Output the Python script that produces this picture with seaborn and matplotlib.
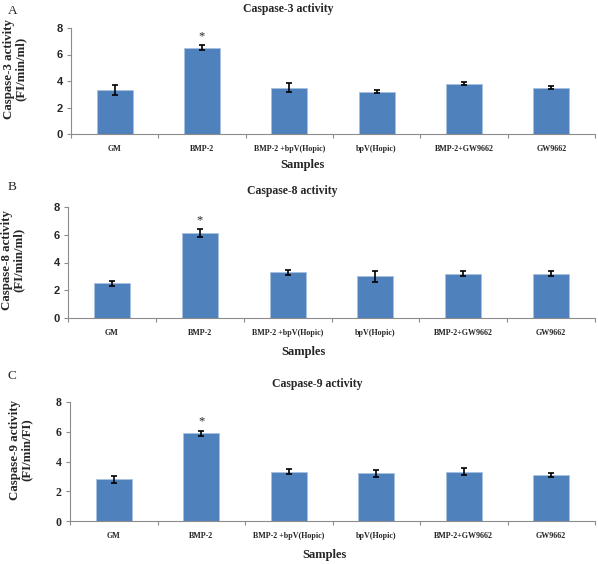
import numpy as np
import pandas as pd
import matplotlib
matplotlib.use("Agg")
import matplotlib.pyplot as plt
from matplotlib.ticker import FixedLocator
import seaborn as sns

categories = ["GM", "BMP-2", "BMP-2 +bpV(Hopic)", "bpV(Hopic)", "BMP-2+GW9662", "GW9662"]

casp3_mean = [3.3, 6.5, 3.5, 3.2, 3.8, 3.5]
casp3_err = [0.38, 0.18, 0.32, 0.13, 0.13, 0.12]
casp8_mean = [2.5, 6.1, 3.3, 3.0, 3.2, 3.2]
casp8_err = [0.2, 0.28, 0.18, 0.4, 0.16, 0.18]
casp9_mean = [2.8, 5.9, 3.3, 3.2, 3.3, 3.1]
casp9_err = [0.22, 0.16, 0.17, 0.23, 0.23, 0.14]

titles = ["Caspase-3 activity", "Caspase-8 activity", "Caspase-9 activity"]
ylabels = ["Caspase-3 activity\n(FI/min/ml)", "Caspase-8 activity\n(FI/min/ml)", "Caspase-9 activity\n(FI/min/FI)"]
panel_letters = ["A", "B", "C"]
yticks = [0, 2, 4, 6, 8]
xlabel = "Samples"
star_label = "*"

sns.set_style("white")
serif = ["Liberation Serif", "DejaVu Serif"]
sans = ["Liberation Sans", "DejaVu Sans"]

fig = plt.figure(figsize=(5.98, 5.64), dpi=100)

# axes rectangles (left, bottom, width, height) in figure fractions
rects = [
    (71 / 598, 1 - 134 / 564, 524 / 598, 106 / 564),
    (68 / 598, 1 - 318 / 564, 527 / 598, 111 / 564),
    (70 / 598, 1 - 521 / 564, 525 / 598, 119 / 564),
]
title_xy = [(288, 9), (292, 191), (317, 384)]
letter_y = [11, 187, 376]
samples_xy = [(302, 165), (303, 352), (324, 555)]
ytick_fonts = [sans, sans, serif]
ytick_sizes = [8, 8, 8.5]
ylabel_sizes = [9.3, 9.3, 9.3]
ylabel_coords = [(-0.084, 0.61), (-0.082, 0.52), (-0.072, 0.60)]

data_sets = [(casp3_mean, casp3_err), (casp8_mean, casp8_err), (casp9_mean, casp9_err)]
bar_color = "#4F81BD"
spine_color = "#8C8C8C"

for i, (means, errs) in enumerate(data_sets):
    ax = fig.add_axes(rects[i])
    df = pd.DataFrame({"Sample": categories, "Value": means})
    sns.barplot(data=df, x="Sample", y="Value", ax=ax, color=bar_color,
                saturation=1, width=0.41, edgecolor="#A9C1E0", linewidth=0.6,
                errorbar=None)
    xs = np.arange(len(categories))
    ax.errorbar(xs, means, yerr=errs, fmt="none", ecolor="black",
                elinewidth=1.2, capsize=2.5, capthick=1.2)
    # significance asterisk above BMP-2
    k = categories.index("BMP-2")
    ax.text(xs[k], means[k] + errs[k] + 0.25, star_label, ha="center", va="bottom",
            fontsize=9, family=serif)
    ax.set_xlim(-0.5, len(categories) - 0.5)
    ax.set_ylim(0, 8)
    ax.set_yticks(yticks)
    ax.set_yticklabels([str(t) for t in yticks], fontsize=ytick_sizes[i],
                       fontweight="bold", family=ytick_fonts[i])
    ax.set_xticks(xs)
    ax.set_xticklabels(categories, fontsize=5.8, fontweight="bold", family=serif)
    ax.xaxis.set_minor_locator(FixedLocator(np.arange(-0.5, len(categories), 1.0)))
    ax.tick_params(axis="x", which="major", length=0, pad=8)
    ax.tick_params(axis="x", which="minor", length=3, direction="out",
                   color=spine_color, width=0.8, bottom=True)
    ax.tick_params(axis="y", which="major", length=3, direction="out",
                   color=spine_color, width=0.8, left=True, pad=3)
    ax.set_xlabel("")
    ax.set_ylabel(ylabels[i], fontsize=ylabel_sizes[i], fontweight="bold",
                  family=serif, linespacing=0.95)
    ax.yaxis.set_label_coords(*ylabel_coords[i])
    for s in ["top", "right"]:
        ax.spines[s].set_visible(False)
    for s in ["left", "bottom"]:
        ax.spines[s].set_color(spine_color)
        ax.spines[s].set_linewidth(0.8)
    ax.grid(False)

    fig.text(title_xy[i][0] / 598, 1 - title_xy[i][1] / 564, titles[i], ha="center",
             va="center", fontsize=8.5, fontweight="bold", family=serif)
    fig.text(8 / 598, 1 - letter_y[i] / 564, panel_letters[i], ha="left", va="center",
             fontsize=9.5, family=serif)
    fig.text(samples_xy[i][0] / 598, 1 - samples_xy[i][1] / 564, xlabel, ha="center",
             va="center", fontsize=9, fontweight="bold", family=serif)

fig.savefig("out.png", dpi=100)
